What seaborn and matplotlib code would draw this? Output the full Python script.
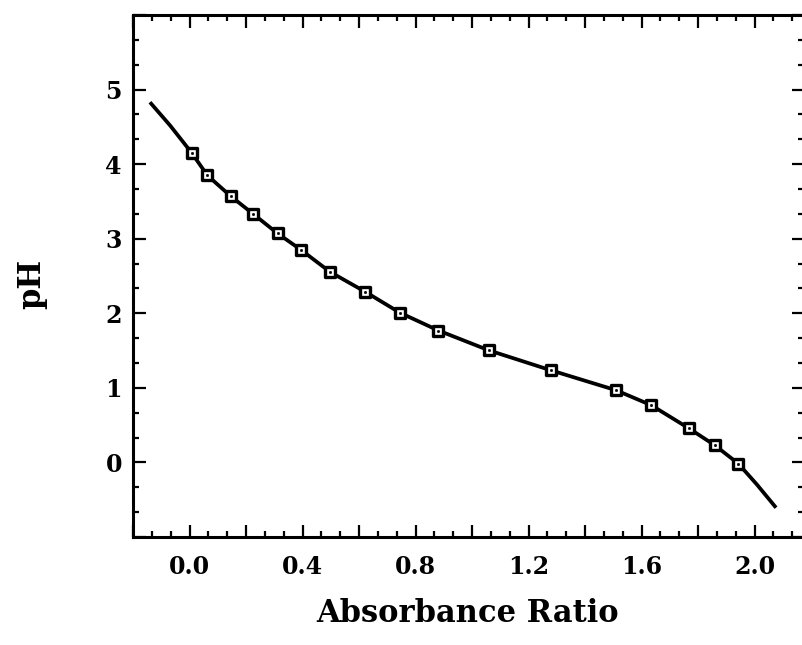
import matplotlib
matplotlib.use("Agg")
import matplotlib.pyplot as plt
import seaborn as sns
import pandas as pd
from matplotlib.ticker import MultipleLocator, AutoMinorLocator, FuncFormatter

# measured points (markers)
absorbance_ratio = [0.008, 0.063, 0.146, 0.226, 0.312, 0.393, 0.497, 0.622, 0.745,
                    0.881, 1.061, 1.278, 1.509, 1.634, 1.768, 1.860, 1.943]
ph_values = [4.15, 3.85, 3.57, 3.33, 3.07, 2.855, 2.556, 2.288, 2.007,
             1.769, 1.501, 1.237, 0.969, 0.768, 0.456, 0.228, -0.018]

# fitted curve
curve_x = [-0.14, -0.069, 0.008, 0.063, 0.146, 0.226, 0.312, 0.393, 0.497, 0.622, 0.745,
           0.881, 1.061, 1.278, 1.509, 1.634, 1.768, 1.860, 1.943, 2.008, 2.076]
curve_y = [4.83, 4.52, 4.15, 3.85, 3.57, 3.33, 3.07, 2.855, 2.556, 2.288, 2.007,
           1.769, 1.501, 1.237, 0.969, 0.768, 0.456, 0.228, -0.018, -0.295, -0.607]

x_tick_labels = ["0.0", "0.4", "0.8", "1.2", "1.6", "2.0"]
y_tick_labels = ["0", "1", "2", "3", "4", "5"]
x_label = "Absorbance Ratio"
y_label = "pH"

sns.set_style("ticks")
plt.rcParams["font.family"] = ["DejaVu Serif"]
plt.rcParams["font.weight"] = "bold"
plt.rcParams["text.color"] = "black"
plt.rcParams["axes.labelcolor"] = "black"

pts = pd.DataFrame({"x": absorbance_ratio, "y": ph_values})
crv = pd.DataFrame({"x": curve_x, "y": curve_y})

fig = plt.figure(figsize=(8.03, 6.45), dpi=100)
ax = fig.add_axes([133 / 803, 1 - 537 / 645, (804 - 133) / 803, (537 - 15) / 645])

sns.lineplot(data=crv, x="x", y="y", sort=False, estimator=None, color="black",
             linewidth=2.7, ax=ax, zorder=2)
ax.lines[-1].set_solid_capstyle("butt")
ax.lines[-1].set_solid_joinstyle("round")
sns.scatterplot(data=pts, x="x", y="y", marker="s", s=7.8 ** 2, color="white",
                edgecolor="black", linewidth=2.4, ax=ax, zorder=3)
sns.scatterplot(data=pts, x="x", y="y", marker="o", s=1.6 ** 2, color="black",
                edgecolor="black", linewidth=0.5, ax=ax, zorder=4)

ax.set_xlim(-0.2, 2.175)
ax.set_ylim(-1, 6)

xt_vals = [float(t) for t in x_tick_labels]
yt_vals = [float(t) for t in y_tick_labels]

ax.xaxis.set_major_locator(MultipleLocator(0.2))
ax.xaxis.set_minor_locator(AutoMinorLocator(3))
ax.xaxis.set_major_formatter(FuncFormatter(
    lambda v, p: next((s for s, t in zip(x_tick_labels, xt_vals) if abs(t - v) < 1e-6), "")))
ax.yaxis.set_major_locator(MultipleLocator(1))
ax.yaxis.set_minor_locator(AutoMinorLocator(3))
ax.yaxis.set_major_formatter(FuncFormatter(
    lambda v, p: next((s for s, t in zip(y_tick_labels, yt_vals) if abs(t - v) < 1e-6), "")))

ax.tick_params(which="both", direction="in", top=True, right=True, width=1.6,
               labelsize=17, colors="black")
ax.tick_params(which="major", length=9)
ax.tick_params(which="minor", length=4.5)
ax.tick_params(axis="x", which="major", pad=13)
ax.tick_params(axis="y", which="major", pad=8)
for s in ax.spines.values():
    s.set_linewidth(2.2)
    s.set_color("black")

ax.set_xlabel(x_label, fontsize=22, fontweight="bold", color="black")
ax.set_ylabel(y_label, fontsize=22, fontweight="bold", color="black")
ax.xaxis.set_label_coords((468 - 133) / 671, (537 - 614) / 522)
ax.yaxis.set_label_coords((32 - 133) / 671, (537 - 284) / 522)
ax.xaxis.label.set_va("center")
ax.yaxis.label.set_va("center")

fig.savefig("out.png", dpi=100)
